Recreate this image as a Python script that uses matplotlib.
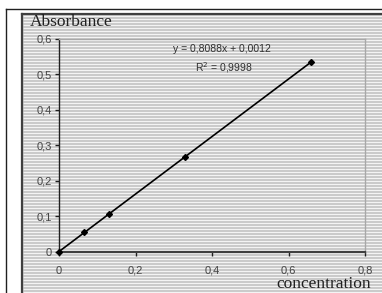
import numpy as np
import matplotlib
matplotlib.use("Agg")
import matplotlib.pyplot as plt
from matplotlib.patches import Rectangle

# data
conc = [0.0, 0.066, 0.132, 0.33, 0.66]
absorb = [0.0, 0.055, 0.107, 0.267, 0.535]
slope = 0.8088
intercept = 0.0012
eq_label = "y = 0,8088x + 0,0012"
r2_label = "R$^2$ = 0,9998"
xticks = [0, 0.2, 0.4, 0.6, 0.8]
xtick_labels = ["0", "0,2", "0,4", "0,6", "0,8"]
yticks = [0, 0.1, 0.2, 0.3, 0.4, 0.5, 0.6]
ytick_labels = ["0", "0,1", "0,2", "0,3", "0,4", "0,5", "0,6"]

W, H = 382, 293
fig = plt.figure(figsize=(W / 100, H / 100), dpi=100)
fig.patch.set_facecolor("white")

# background (figure pixel coordinates)
bg = fig.add_axes([0, 0, 1, 1], zorder=-1)
bg.set_xlim(0, W)
bg.set_ylim(H, 0)
bg.axis("off")
# striped chart area
bg.add_patch(Rectangle((22, 14), W, H, facecolor="#c8c8c8", edgecolor="none"))
for yy in np.arange(15.5, H, 3):
    bg.plot([23, W], [yy, yy], color="#f4f4f4", lw=0.85, solid_capstyle="butt")
# chart area border
bg.plot([22, 22], [H, 14], color="#404040", lw=1.6)
bg.plot([22, W], [14, 14], color="#404040", lw=1.6)
# outer frame
bg.plot([6, 6], [H, 9], color="#202020", lw=1.0)
bg.plot([6, W], [9, 9], color="#202020", lw=1.0)

# plot area
x0, x1, ytop, ybot = 59, 365, 38.7, 252
ax = fig.add_axes([x0 / W, (H - ybot) / H, (x1 - x0) / W, (ybot - ytop) / H])
ax.patch.set_alpha(0)
ax.set_xlim(0, 0.8)
ax.set_ylim(0, 0.6)

xs = np.array([min(conc), max(conc)])
ax.plot(xs, slope * xs + intercept, color="black", lw=1.2, zorder=3)
ax.plot(conc, absorb, linestyle="none", marker="D", markersize=3.0,
        color="black", zorder=4, clip_on=False)

ax.set_xticks(xticks)
ax.set_xticklabels(xtick_labels)
ax.set_yticks(yticks)
ax.set_yticklabels(ytick_labels)
for lab in ax.get_xticklabels() + ax.get_yticklabels():
    lab.set_family("Liberation Sans")
    lab.set_fontsize(8)
    lab.set_color("#454545")
ax.tick_params(axis="x", direction="out", length=3, width=1, color="#202020", pad=7)
ax.tick_params(axis="y", direction="out", length=3, width=1, color="#202020", pad=2)

ax.spines["left"].set_color("#202020")
ax.spines["left"].set_linewidth(1.0)
ax.spines["bottom"].set_color("#404040")
ax.spines["bottom"].set_linewidth(1.6)
ax.spines["top"].set_color("#a8a8a8")
ax.spines["top"].set_linewidth(1.0)
ax.spines["right"].set_color("#a8a8a8")
ax.spines["right"].set_linewidth(1.0)

ax.text(0.426, 0.571, eq_label, transform=ax.transData, ha="center", va="center",
        family="Liberation Sans", fontsize=7.5, color="#303030")
ax.text(0.43, 0.52, r2_label, transform=ax.transData, ha="center", va="center",
        family="Liberation Sans", fontsize=7.5, color="#303030")

bg.text(30, 22, "Absorbance", ha="left", va="center", family="Liberation Serif",
        fontsize=12.5, color="#202020")
bg.text(371, 284, "concentration", ha="right", va="center", family="Liberation Serif",
        fontsize=12.5, color="#202020")

fig.savefig("out.png", dpi=100)
